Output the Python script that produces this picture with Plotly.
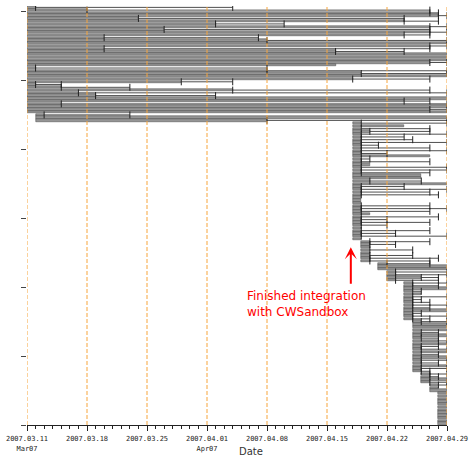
import pandas as pd
import plotly.graph_objects as go

# ---- data, one entry per row, top row first ----
start_dates = [
    # group started 03-11 (39 rows)
    "03-11", "03-11", "03-11", "03-11", "03-11", "03-11", "03-11", "03-11", "03-11", "03-11",
    "03-11", "03-11", "03-11", "03-11", "03-11", "03-11", "03-11", "03-11", "03-11", "03-11",
    "03-11", "03-11", "03-11", "03-11", "03-11", "03-11", "03-11", "03-11", "03-11", "03-11",
    "03-11", "03-11", "03-11", "03-11", "03-11", "03-11", "03-11", "03-11", "03-11",
    # 03-12 (3 rows)
    "03-12", "03-12", "03-12",
    # 04-18 (43 rows)
    "04-18", "04-18", "04-18", "04-18", "04-18", "04-18", "04-18", "04-18", "04-18", "04-18",
    "04-18", "04-18", "04-18", "04-18", "04-18", "04-18", "04-18", "04-18", "04-18", "04-18",
    "04-18", "04-18", "04-18", "04-18", "04-18", "04-18", "04-18", "04-18", "04-18", "04-18",
    "04-18", "04-18", "04-18", "04-18", "04-18", "04-18", "04-18", "04-18", "04-18", "04-18",
    "04-18", "04-18", "04-18",
    # 04-19 (8)
    "04-19", "04-19", "04-19", "04-19", "04-19", "04-19", "04-19", "04-19",
    # 04-21 (3)
    "04-21", "04-21", "04-21",
    # 04-22 (4)
    "04-22", "04-22", "04-22", "04-22",
    # 04-24 (14)
    "04-24", "04-24", "04-24", "04-24", "04-24", "04-24", "04-24", "04-24", "04-24", "04-24",
    "04-24", "04-24", "04-24", "04-24",
    # 04-25 (19)
    "04-25", "04-25", "04-25", "04-25", "04-25", "04-25", "04-25", "04-25", "04-25", "04-25",
    "04-25", "04-25", "04-25", "04-25", "04-25", "04-25", "04-25", "04-25", "04-25",
    # 04-26 (4)
    "04-26", "04-26", "04-26", "04-26",
    # 04-27 (3)
    "04-27", "04-27", "04-27",
    # 04-28 (12)
    "04-28", "04-28", "04-28", "04-28", "04-28", "04-28", "04-28", "04-28", "04-28", "04-28",
    "04-28", "04-28",
]

bar_end_dates = [
    "03-12", "03-18", "04-27", "04-28", "03-24", "04-24", "04-02", "04-27", "03-27", "04-27",
    "04-24", "03-20", "04-08", "04-29", "04-27", "03-20", "04-16", "04-29", "04-29", "04-29",
    "04-27", "04-16", "03-12", "04-08", "04-19", "04-29", "04-18", "03-29", "03-12", "03-15",
    "04-04", "03-17", "03-19", "04-29", "04-24", "03-15", "04-29", "04-27", "04-29",
    "03-13", "04-29", "04-08",
    "04-19", "04-24", "04-19", "04-20", "04-19", "04-19", "04-19", "04-19", "04-19", "04-19",
    "04-19", "04-19", "04-27", "04-19", "04-19", "04-20", "04-19", "04-19", "04-19", "04-26",
    "04-26", "04-20", "04-29", "04-19", "04-19", "04-19", "04-19", "04-19", "04-19", "04-19",
    "04-19", "04-19", "04-19", "04-20", "04-19", "04-19", "04-19", "04-19", "04-19", "04-19",
    "04-19", "04-19", "04-19",
    "04-20", "04-20", "04-20", "04-20", "04-20", "04-20", "04-20", "04-20",
    "04-22", "04-29", "04-29",
    "04-23", "04-23", "04-26", "04-23",
    "04-25", "04-25", "04-29", "04-25", "04-26", "04-25", "04-25", "04-25", "04-25", "04-25",
    "04-29", "04-25", "04-25", "04-25",
    "04-26", "04-29", "04-29", "04-29", "04-26", "04-29", "04-26", "04-28", "04-29", "04-26",
    "04-26", "04-29", "04-26", "04-29", "04-26", "04-26", "04-29", "04-26", "04-26",
    "04-27", "04-27", "04-29", "04-27",
    "04-28", "04-28", "04-29",
    "04-29", "04-29", "04-29", "04-29", "04-29", "04-29", "04-29", "04-29", "04-29", "04-29",
    "04-29", "04-29",
]

last_dates = [
    "04-04", "04-27", "04-28", "04-29", "04-24", "04-28", "04-10", "04-29", "04-27", "04-29",
    "04-27", "04-07", "04-29", "04-29", "04-29", "04-27", "04-24", "04-29", "04-29", "04-29",
    "04-29", "04-16", "04-08", "04-29", "04-29", "04-29", "04-27", "04-04", "03-15", "03-23",
    "04-27", "04-29", "04-02", "04-29", "04-27", "04-29", "04-29", "04-29", "04-29",
    "03-23", "04-29", "04-29",
    "04-29", "04-24", "04-27", "04-27", "04-29", "04-24", "04-25", "04-29", "04-21", "04-27",
    "04-29", "04-22", "04-27", "04-20", "04-27", "04-20", "04-29", "04-29", "04-27", "04-26",
    "04-26", "04-26", "04-29", "04-24", "04-29", "04-27", "04-28", "04-19", "04-19", "04-19",
    "04-27", "04-29", "04-27", "04-20", "04-28", "04-22", "04-27", "04-22", "04-19", "04-27",
    "04-23", "04-29", "04-19",
    "04-27", "04-23", "04-20", "04-25", "04-20", "04-25", "04-28", "04-27",
    "04-27", "04-29", "04-29",
    "04-29", "04-29", "04-28", "04-28",
    "04-29", "04-28", "04-29", "04-26", "04-26", "04-29", "04-26", "04-27", "04-29", "04-27",
    "04-29", "04-26", "04-29", "04-27",
    "04-29", "04-29", "04-29", "04-29", "04-28", "04-29", "04-28", "04-29", "04-29", "04-28",
    "04-29", "04-29", "04-28", "04-29", "04-29", "04-28", "04-29", "04-29", "04-27",
    "04-29", "04-28", "04-29", "04-29",
    "04-29", "04-28", "04-29",
    "04-29", "04-29", "04-29", "04-29", "04-29", "04-29", "04-29", "04-29", "04-29", "04-29",
    "04-29", "04-29",
]

x_tick_dates = ["2007-03-11", "2007-03-18", "2007-03-25", "2007-04-01",
                "2007-04-08", "2007-04-15", "2007-04-22", "2007-04-29"]
x_tick_labels = ["2007.03.11<br>Mar07", "2007.03.18", "2007.03.25", "2007.04.01<br>Apr07",
                 "2007.04.08", "2007.04.15", "2007.04.22", "2007.04.29"]
y_tick_rows = [0, 25, 50, 75, 100, 125, 150]
YEAR = "2007-"

# ---- build ----
n = min(len(start_dates), len(bar_end_dates), len(last_dates))
rows_y = [n - i - 0.5 for i in range(n)]
s_ts = [pd.Timestamp(YEAR + d) for d in start_dates[:n]]
b_ts = [pd.Timestamp(YEAR + d) for d in bar_end_dates[:n]]
e_ts = [pd.Timestamp(YEAR + d) for d in last_dates[:n]]
dur_ms = [(bb - ss).total_seconds() * 1000 for ss, bb in zip(s_ts, b_ts)]

fig = go.Figure()
fig.add_trace(go.Bar(
    orientation="h", y=rows_y, x=dur_ms,
    base=[t.strftime("%Y-%m-%d") for t in s_ts],
    width=0.84,
    marker=dict(color="#959595", line=dict(color="#444444", width=0.5)),
    hoverinfo="skip", showlegend=False,
))

wx, wy, cx, cy = [], [], [], []
for yy, bb, ee in zip(rows_y, b_ts, e_ts):
    if ee > bb:
        wx += [bb.strftime("%Y-%m-%d"), ee.strftime("%Y-%m-%d"), None]
        wy += [yy, yy, None]
        cx += [bb.strftime("%Y-%m-%d"), ee.strftime("%Y-%m-%d")]
        cy += [yy, yy]
fig.add_trace(go.Scatter(x=wx, y=wy, mode="lines", line=dict(color="#222", width=0.8),
                         hoverinfo="skip", showlegend=False))
fig.add_trace(go.Scatter(x=cx, y=cy, mode="markers",
                         marker=dict(symbol="line-ns", size=5, line=dict(color="#222", width=1)),
                         hoverinfo="skip", showlegend=False))

# weekly orange dashed guide lines drawn above the bars
for d in x_tick_dates:
    fig.add_shape(type="line", xref="x", yref="paper", x0=d, x1=d, y0=0, y1=1,
                  line=dict(color="#f7a53c", width=1, dash="4px,2px"),
                  layer="above")

fig.update_layout(
    width=469, height=456,
    margin=dict(l=27, r=22, t=6, b=31),
    plot_bgcolor="white", paper_bgcolor="white",
    bargap=0, barmode="overlay", hovermode=False,
    font=dict(family="DejaVu Sans", color="#222"),
    xaxis=dict(
        type="date", range=["2007-03-11", "2007-04-29"],
        tickvals=x_tick_dates, ticktext=x_tick_labels,
        tickfont=dict(family="DejaVu Sans Mono", size=7, color="#222"),
        ticks="outside", ticklen=5, tickcolor="#222", tickwidth=1,
        ticklabelstandoff=2,
        showline=True, linecolor="#222", linewidth=1,
        showgrid=False, zeroline=False, automargin=False,
        minor=dict(dtick=86400000, ticks="outside", ticklen=3, tickcolor="#222", showgrid=False),
    ),
    yaxis=dict(
        range=[0, n], tickvals=y_tick_rows, showticklabels=False,
        ticks="outside", ticklen=5, tickcolor="#444",
        showgrid=False, zeroline=False, showline=False, automargin=False,
    ),
    annotations=[
        dict(text="Date", xref="paper", yref="paper", x=0.533, y=-0.064,
             xanchor="center", yanchor="middle", showarrow=False,
             font=dict(family="DejaVu Sans", size=10, color="#333")),
        dict(text="Finished integration<br>with CWSandbox", xref="paper", yref="paper",
             x=0.52, y=0.288, xanchor="left", yanchor="middle", align="left",
             showarrow=False, font=dict(family="DejaVu Sans", size=12, color="red")),
        dict(text="", xref="paper", yref="paper", x=0.771, y=0.424, ax=0, ay=38,
             showarrow=True, arrowhead=3, arrowsize=1, arrowwidth=2, arrowcolor="red",
             standoff=0),
    ],
)

fig.write_html("out.html",
               config={"displayModeBar": False, "responsive": False},
               post_script="document.body.style.margin='0';document.body.style.padding='0';")
